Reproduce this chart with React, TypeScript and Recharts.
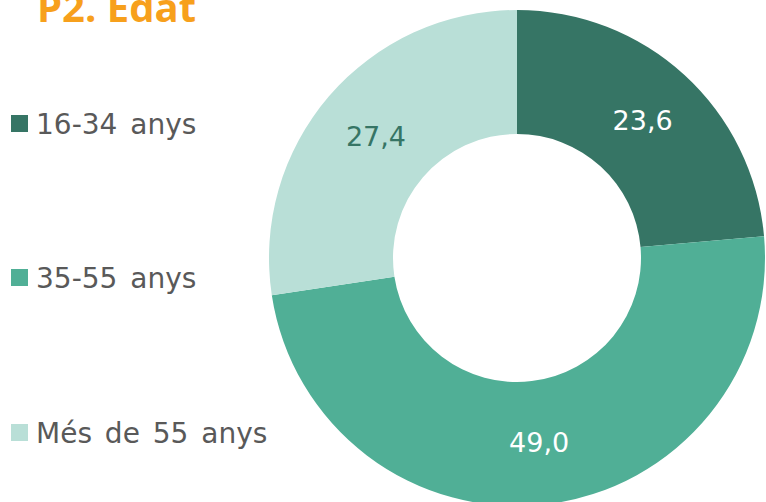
import { Cell, Legend, Pie, PieChart } from "recharts";

const categories = ["16-34 anys", "35-55 anys", "Més de 55 anys"];
const values = [23.6, 49.0, 27.4];
const colors = ["#367565", "#50AF96", "#B9DFD7"];
const labelColors = ["#ffffff", "#ffffff", "#367565"];

const data = categories.map((name, i) => ({ name, value: values[i] }));

const FONT = "'DejaVu Sans', sans-serif";
const TITLE_FONT = "'Open Sans', sans-serif";
const RADIAN = Math.PI / 180;

function renderLabel(props: any) {
  const { cx, cy, midAngle, innerRadius, outerRadius, value, index } = props;
  const r = (innerRadius + outerRadius) / 2;
  const x = cx + r * Math.cos(-midAngle * RADIAN);
  const y = cy + r * Math.sin(-midAngle * RADIAN);
  return (
    <text
      x={x}
      y={y}
      fill={labelColors[index]}
      textAnchor="middle"
      dominantBaseline="central"
      fontFamily={FONT}
      fontSize={27}
    >
      {value.toFixed(1).replace(".", ",")}
    </text>
  );
}

function LegendList({ payload }: any) {
  return (
    <div style={{ position: "relative", width: 280, height: 502 }}>
      {(payload || []).map((entry: any, i: number) => (
        <div
          key={entry.value}
          style={{
            position: "absolute",
            left: 11,
            top: 105 + i * 154.5,
            display: "flex",
            alignItems: "center",
            height: 36,
            whiteSpace: "nowrap",
          }}
        >
          <span
            style={{
              width: 17,
              height: 17,
              background: entry.color,
              display: "inline-block",
              marginRight: 8,
              marginTop: 0,
            }}
          />
          <span
            style={{
              fontFamily: FONT,
              fontSize: 28,
              color: "#595959",
              lineHeight: "36px",
              wordSpacing: 4,
              marginTop: 3,
            }}
          >
            {entry.value}
          </span>
        </div>
      ))}
    </div>
  );
}

export default function App() {
  return (
    <div
      style={{
        position: "fixed",
        left: 0,
        top: 0,
        width: 766,
        height: 502,
        overflow: "hidden",
        background: "#fff",
      }}
    >
      <PieChart width={766} height={502} margin={{ top: 0, right: 0, bottom: 0, left: 0 }}>
        <Pie
          data={data}
          dataKey="value"
          nameKey="name"
          cx={517}
          cy={258}
          innerRadius={124}
          outerRadius={248}
          startAngle={90}
          endAngle={-270}
          stroke="none"
          label={renderLabel}
          labelLine={false}
          isAnimationActive={false}
        >
          {data.map((d, i) => (
            <Cell key={d.name} fill={colors[i]} />
          ))}
        </Pie>
        <Legend
          layout="vertical"
          align="center"
          verticalAlign="middle"
          wrapperStyle={{ left: 0, top: 0, width: 280, height: 502 }}
          content={<LegendList />}
        />
      </PieChart>
      <div
        style={{
          position: "absolute",
          left: 37,
          top: -19,
          fontFamily: TITLE_FONT,
          fontWeight: 700,
          fontSize: 40,
          lineHeight: "52px",
          color: "#F7A01C",
          whiteSpace: "nowrap",
        }}
      >
        P2. Edat
      </div>
    </div>
  );
}
